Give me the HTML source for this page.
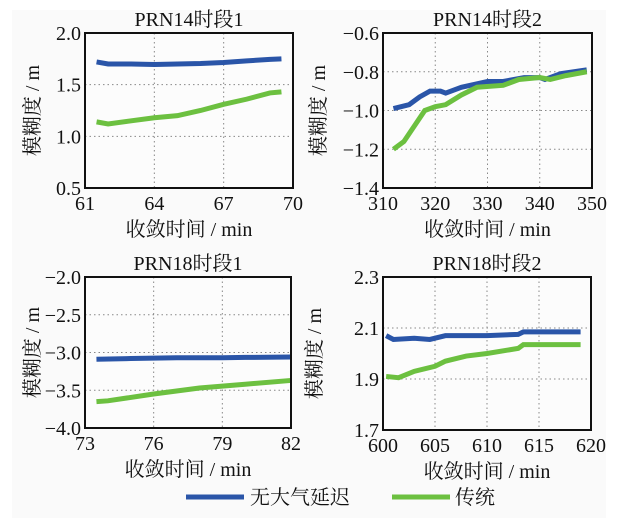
<!DOCTYPE html>
<html><head><meta charset="utf-8"><style>
body{margin:0;background:#fff;}
svg text{font-family:"Liberation Serif","Noto Serif CJK SC",serif;fill:#111;}
</style></head><body>
<svg id="s" width="617" height="521" xmlns="http://www.w3.org/2000/svg">
<rect x="12" y="10" width="594" height="508" fill="#fafafa"/>
</svg>
<script>
const s=document.getElementById('s');let h='';
const P=[
{t:'PRN14时段1',lx:32,x0:85,x1:293,y0:33,y1:188,xa:61,xb:70,ya:0.5,yb:2.0,xt:[61,64,67,70],yt:[0.5,1.0,1.5,2.0],yl:['0.5','1.0','1.5','2.0'],gx:[64,67],gy:[1.0,1.5],
 b:[[61.5,1.72],[62,1.70],[63,1.70],[64,1.695],[65,1.70],[66,1.705],[67,1.715],[68,1.73],[69,1.745],[69.5,1.75]],
 g:[[61.5,1.14],[62,1.12],[63,1.15],[64,1.18],[65,1.20],[66,1.25],[67,1.31],[68,1.36],[69,1.42],[69.5,1.43]]},
{t:'PRN14时段2',lx:318,x0:383,x1:592,y0:33,y1:188,xa:310,xb:350,ya:-1.4,yb:-0.6,xt:[310,320,330,340,350],yt:[-1.4,-1.2,-1.0,-0.8,-0.6],yl:['−1.4','−1.2','−1.0','−0.8','−0.6'],gx:[320,330,340],gy:[-1.2,-1.0,-0.8],
 b:[[312,-0.99],[315,-0.97],[317,-0.93],[319,-0.90],[321,-0.90],[322,-0.91],[325,-0.88],[330,-0.85],[333,-0.85],[337,-0.83],[340,-0.83],[341,-0.84],[344,-0.81],[349,-0.79]],
 g:[[312,-1.20],[314,-1.16],[316,-1.08],[318,-1.00],[320,-0.98],[322,-0.97],[325,-0.92],[328,-0.88],[333,-0.87],[336,-0.84],[340,-0.83],[342,-0.84],[345,-0.82],[349,-0.80]]},
{t:'PRN18时段1',lx:32,x0:85,x1:291,y0:277,y1:428,xa:73,xb:82,ya:-4,yb:-2,xt:[73,76,79,82],yt:[-4,-3.5,-3,-2.5,-2],yl:['−4.0','−3.5','−3.0','−2.5','−2.0'],gx:[76,79],gy:[-3.5,-3,-2.5],
 b:[[73.5,-3.09],[75,-3.08],[77,-3.07],[79,-3.07],[80,-3.065],[82,-3.06]],
 g:[[73.5,-3.65],[74,-3.64],[76,-3.55],[78,-3.47],[80,-3.42],[82,-3.37]]},
{t:'PRN18时段2',lx:314,x0:383,x1:591,y0:277,y1:430,xa:600,xb:620,ya:1.7,yb:2.3,xt:[600,605,610,615,620],yt:[1.7,1.9,2.1,2.3],yl:['1.7','1.9','2.1','2.3'],gx:[605,610,615],gy:[1.9,2.1],
 b:[[600.3,2.07],[601,2.055],[603,2.06],[604.5,2.055],[606,2.07],[610,2.07],[613,2.075],[613.5,2.085],[619,2.085]],
 g:[[600.3,1.91],[601.5,1.905],[603,1.93],[605,1.95],[606,1.97],[608,1.99],[610,2.0],[613,2.02],[613.5,2.035],[619,2.035]]}
];
for(const p of P){
 const X=v=>p.x0+(v-p.xa)/(p.xb-p.xa)*(p.x1-p.x0), Y=v=>p.y1-(v-p.ya)/(p.yb-p.ya)*(p.y1-p.y0);
 h+=`<rect x="${p.x0}" y="${p.y0}" width="${p.x1-p.x0}" height="${p.y1-p.y0}" fill="#fcfcfc"/>`;
 for(const g of p.gx)h+=`<line x1="${X(g)}" x2="${X(g)}" y1="${p.y0}" y2="${p.y1}" stroke="#888" stroke-dasharray="1.5,3"/>`;
 for(const g of p.gy)h+=`<line y1="${Y(g)}" y2="${Y(g)}" x1="${p.x0}" x2="${p.x1}" stroke="#888" stroke-dasharray="1.5,3"/>`;
 h+=`<polyline points="${p.b.map(q=>X(q[0])+','+Y(q[1])).join(' ')}" fill="none" stroke="#2a55a8" stroke-width="5"/>`;
 h+=`<polyline points="${p.g.map(q=>X(q[0])+','+Y(q[1])).join(' ')}" fill="none" stroke="#6cc040" stroke-width="5"/>`;
 h+=`<rect x="${p.x0}" y="${p.y0}" width="${p.x1-p.x0}" height="${p.y1-p.y0}" fill="none" stroke="#111" stroke-width="2"/>`;
 p.xt.forEach(v=>h+=`<text x="${X(v)}" y="${p.y1+22}" font-size="20" text-anchor="middle">${v}</text>`);
 p.yt.forEach((v,i)=>h+=`<text x="${p.x0-4}" y="${Y(v)+7}" font-size="20" text-anchor="end">${p.yl[i]}</text>`);
 const cx=(p.x0+p.x1)/2;
 h+=`<text x="${cx}" y="${p.y0-7}" font-size="20" text-anchor="middle">${p.t}</text>`;
 h+=`<text x="${cx}" y="${p.y1+48}" font-size="20" text-anchor="middle">收敛时间 / min</text>`;
 const lx=p.lx, ly=(p.y0+p.y1)/2;
 h+=`<text x="${lx}" y="${ly}" font-size="20" text-anchor="middle" transform="rotate(-90 ${lx} ${ly})" dy="7">模糊度 / m</text>`;
}
h+=`<line x1="186" x2="244" y1="497" y2="497" stroke="#2a55a8" stroke-width="5"/><text x="250" y="504" font-size="20">无大气延迟</text>`;
h+=`<line x1="392" x2="450" y1="497" y2="497" stroke="#6cc040" stroke-width="5"/><text x="455" y="504" font-size="20">传统</text>`;
s.insertAdjacentHTML('beforeend',h);
</script>
</body></html>
